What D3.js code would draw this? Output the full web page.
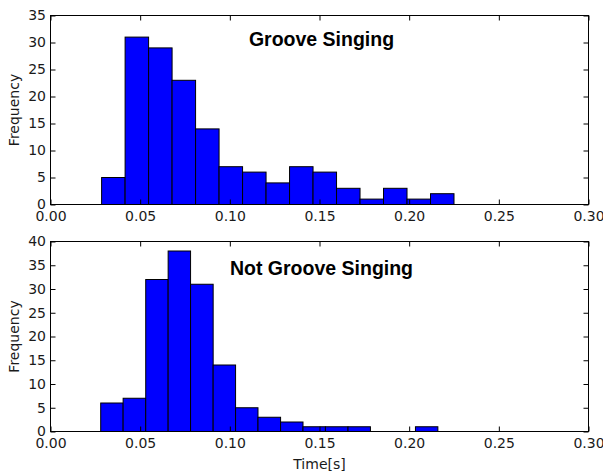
<!DOCTYPE html>
<html>
<head>
<meta charset="utf-8">
<script src="https://cdn.jsdelivr.net/npm/d3@7"></script>
<style>
  body { margin: 0; background: #fff; }
  svg { display: block; }
  .tick text { font-family: "DejaVu Sans", sans-serif; font-size: 14px; fill: #1a1a1a; }
  .tick line { stroke: #000; stroke-width: 1; }
</style>
</head>
<body>
<svg width="603" height="475"></svg>
<script>
// bin edges and counts
var grooveEdges = [0.0285, 0.0416, 0.0547, 0.0678, 0.0809, 0.0940, 0.1071, 0.1202,
                   0.1333, 0.1464, 0.1595, 0.1726, 0.1857, 0.1988, 0.2119, 0.2250];
var grooveCounts = [5, 31, 29, 23, 14, 7, 6, 4, 7, 6, 3, 1, 3, 1, 2];

var notGrooveEdges = [0.0280, 0.0405, 0.0531, 0.0656, 0.0781, 0.0907, 0.1032, 0.1157,
                      0.1283, 0.1408, 0.1533, 0.1659, 0.1784, 0.1909, 0.2035, 0.2160];
var notGrooveCounts = [6, 7, 32, 38, 31, 14, 5, 3, 2, 1, 1, 1, 0, 0, 1];

var xTicks = [0, 0.05, 0.10, 0.15, 0.20, 0.25, 0.30];
var grooveYTicks = [0, 5, 10, 15, 20, 25, 30, 35];
var notGrooveYTicks = [0, 5, 10, 15, 20, 25, 30, 35, 40];

var svg = d3.select("svg");

var left = 50.5, right = 588.5;

var x = d3.scaleLinear()
  .domain([0, 0.30])
  .range([left, right]);

function panel(top, bottom, edges, counts, yTicks, yMax, title, titleY) {
  var y = d3.scaleLinear()
    .domain([0, yMax])
    .range([bottom, top]);

  var bins = counts.map(function(c, i) { return {x0: edges[i], x1: edges[i + 1], n: c}; })
    .filter(function(d) { return d.n > 0; });

  var g = svg.append("g");

  g.selectAll("rect.bar")
    .data(bins)
    .enter()
    .append("rect")
      .attr("class", "bar")
      .attr("x", function(d) { return x(d.x0); })
      .attr("y", function(d) { return y(d.n); })
      .attr("width", function(d) { return x(d.x1) - x(d.x0); })
      .attr("height", function(d) { return bottom - y(d.n); })
      .attr("fill", "#0000ff")
      .attr("stroke", "#000")
      .attr("stroke-width", 1);

  // ticks point inward, on all four sides
  g.append("g")
    .attr("transform", "translate(0," + bottom + ")")
    .call(d3.axisBottom(x).tickValues(xTicks).tickFormat(d3.format(".2f"))
      .tickSizeInner(-5).tickSizeOuter(0).tickPadding(6.5))
    .call(function(a) { a.select(".domain").remove(); });

  g.append("g")
    .attr("transform", "translate(0," + top + ")")
    .call(d3.axisTop(x).tickValues(xTicks).tickFormat("").tickSizeInner(-5).tickSizeOuter(0))
    .call(function(a) { a.select(".domain").remove(); });

  g.append("g")
    .attr("transform", "translate(" + left + ",0)")
    .call(d3.axisLeft(y).tickValues(yTicks).tickFormat(d3.format("d"))
      .tickSizeInner(-5).tickSizeOuter(0).tickPadding(4.5))
    .call(function(a) { a.select(".domain").remove(); });

  g.append("g")
    .attr("transform", "translate(" + right + ",0)")
    .call(d3.axisRight(y).tickValues(yTicks).tickFormat("").tickSizeInner(-5).tickSizeOuter(0))
    .call(function(a) { a.select(".domain").remove(); });

  g.append("rect")
    .attr("x", left)
    .attr("y", top)
    .attr("width", right - left)
    .attr("height", bottom - top)
    .attr("fill", "none")
    .attr("stroke", "#000")
    .attr("stroke-width", 1);

  g.append("text")
    .attr("x", (left + right) / 2 + 2)
    .attr("y", titleY)
    .attr("text-anchor", "middle")
    .style("font-family", "'Liberation Sans', Arial, sans-serif")
    .style("font-weight", "bold")
    .style("font-size", "19.5px")
    .text(title);

  g.append("text")
    .attr("transform", "translate(18.5," + ((top + bottom) / 2) + ") rotate(-90)")
    .attr("text-anchor", "middle")
    .style("font-family", "'DejaVu Sans', sans-serif")
    .style("font-size", "14px")
    .style("fill", "#1a1a1a")
    .text("Frequency");
}

panel(15.5, 204.5, grooveEdges, grooveCounts, grooveYTicks, 35, "Groove Singing", 46);
panel(241.5, 431.5, notGrooveEdges, notGrooveCounts, notGrooveYTicks, 40, "Not Groove Singing", 275);

svg.append("text")
  .attr("x", (left + right) / 2)
  .attr("y", 469)
  .attr("text-anchor", "middle")
  .style("font-family", "'DejaVu Sans', sans-serif")
  .style("font-size", "14px")
  .style("fill", "#1a1a1a")
  .text("Time[s]");
</script>
</body>
</html>
